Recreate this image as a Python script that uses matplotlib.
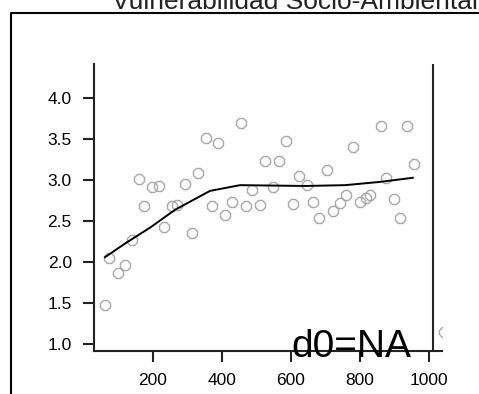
import matplotlib
matplotlib.use("Agg")
import matplotlib.pyplot as plt
from matplotlib.lines import Line2D

TITLE = "Vulnerabilidad Socio-Ambiental"
NOTE = "d0=NA"

# scatter points
pts_x = [62, 74, 100, 120, 139, 161, 175, 197, 219, 233, 257, 270, 294, 313, 330,
         354, 372, 390, 410, 429, 455, 470, 487, 511, 525, 547, 567, 586, 607, 625,
         646, 663, 682, 704, 723, 742, 760, 779, 800, 818, 829, 860, 875, 899, 916,
         935, 957, 1043]
pts_y = [1.48, 2.05, 1.87, 1.97, 2.27, 3.01, 2.69, 2.92, 2.93, 2.43, 2.68, 2.70, 2.95, 2.35, 3.09,
         3.51, 2.68, 3.46, 2.58, 2.74, 3.70, 2.68, 2.88, 2.70, 3.23, 2.92, 3.23, 3.48, 2.71, 3.05,
         2.94, 2.74, 2.54, 3.13, 2.62, 2.72, 2.82, 3.41, 2.74, 2.78, 2.82, 3.66, 3.03, 2.77, 2.54,
         3.66, 3.20, 1.15]

# smoothed fit line
fit_x = [62, 121, 192, 265, 366, 453, 641, 757, 859, 953]
fit_y = [2.06, 2.23, 2.42, 2.64, 2.87, 2.94, 2.93, 2.94, 2.98, 3.03]

y_ticks = [1.0, 1.5, 2.0, 2.5, 3.0, 3.5, 4.0]
x_ticks = [200, 400, 600, 800, 1000]

W, H = 479, 394
fig = plt.figure(figsize=(W / 100, H / 100), dpi=100)
plt.rcParams["font.family"] = ["Liberation Sans", "DejaVu Sans"]

# outer frame (only top/left visible)
fig.add_artist(Line2D([10.5 / W, 10.5 / W, 1.0], [0.0, 1 - 12.5 / H, 1 - 12.5 / H],
                      transform=fig.transFigure, color="black", lw=1.5))
fig.text(294.5 / W, 1 - 9 / H, TITLE, ha="center", va="baseline",
         fontsize=19, color="#222222")

ax = fig.add_axes([94 / W, 1 - 351 / H, (442 - 94) / W, (351 - 64) / H])
ax.set_xlim(30, 1037.6)
ax.set_ylim(0.914, 4.42)
for s in ("top", "right"):
    ax.spines[s].set_visible(False)
for s in ("left", "bottom"):
    ax.spines[s].set_linewidth(1.5)
    ax.spines[s].set_color("#222222")
ax.axvline(1011.5, color="#222222", lw=1.5)

ax.plot(pts_x, pts_y, ls="none", marker="8", ms=8.5, mfc="none", mec="#a8a8a8", mew=1)
ax.plot(fit_x, fit_y, color="black", lw=1.4)

ax.set_yticks(y_ticks)
ax.set_yticklabels([f"{v:.1f}" for v in y_ticks])
ax.set_xticks(x_ticks)
ax.set_xticklabels([str(v) for v in x_ticks])
ax.tick_params(length=8, width=1.5, color="#222222", labelsize=12.5, pad=8)

ax.text(774, 0.84, NOTE, ha="center", va="baseline",
        fontsize=28, color="black", clip_on=False)

fig.savefig("out.png", dpi=100)
